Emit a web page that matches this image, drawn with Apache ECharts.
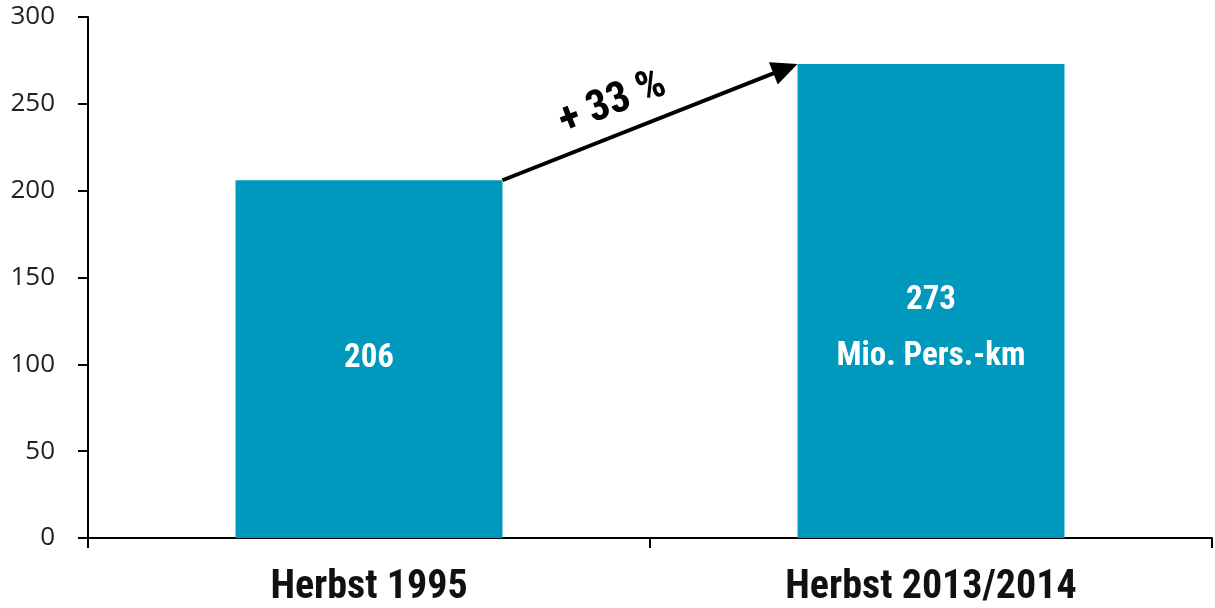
<!DOCTYPE html>
<html>
<head>
<meta charset="utf-8">
<script src="https://cdn.jsdelivr.net/npm/echarts@6/dist/echarts.min.js"></script>
<style>
html,body{margin:0;padding:0;background:#fff;}
#c{width:1215px;height:608px;}
</style>
</head>
<body>
<div id="c"></div>
<script>
const categories = ['Herbst 1995', 'Herbst 2013/2014'];
const values = [206, 273];
const valueLabels = ['206', '273\nMio. Pers.-km'];
const yTicks = [0, 50, 100, 150, 200, 250, 300];
const changeLabel = '+ 33 %';

const narrow = '"Roboto Condensed", "Open Sans Condensed", "Liberation Sans", sans-serif';
const BAR_FRAC = 0.475;

const chart = echarts.init(document.getElementById('c'));
chart.setOption({
  animation: false,
  grid: { left: 88, right: 3, top: 17, bottom: 70 },
  xAxis: {
    type: 'category',
    data: categories,
    axisLine: { lineStyle: { color: '#000', width: 2 } },
    axisTick: { show: true, length: 10, lineStyle: { color: '#000', width: 2 } },
    axisLabel: { color: '#111', fontFamily: narrow, fontWeight: 'bold', fontSize: 40, margin: 30 }
  },
  yAxis: {
    type: 'value',
    min: yTicks[0], max: yTicks[yTicks.length - 1], interval: 50,
    splitLine: { show: false },
    axisLine: { show: true, lineStyle: { color: '#000', width: 2 } },
    axisTick: { show: true, length: 10, lineStyle: { color: '#000', width: 2 } },
    axisLabel: { color: '#222', fontFamily: '"Open Sans", "Noto Sans", sans-serif', fontSize: 26, margin: 33 }
  },
  series: [{
    type: 'bar',
    data: values.map((v, i) => ({
      value: v,
      label: {
        formatter: valueLabels[i],
        offset: [0, i === 1 ? 28 : 0]
      }
    })),
    barWidth: (BAR_FRAC * 100) + '%',
    itemStyle: { color: '#0098BC' },
    label: {
      show: true, position: 'inside', color: '#fff',
      fontFamily: narrow, fontWeight: 'bold', fontSize: 33, lineHeight: 56
    }
  }]
});

function drawArrow() {
  const p0 = chart.convertToPixel({ seriesIndex: 0 }, [0, values[0]]);
  const p1 = chart.convertToPixel({ seriesIndex: 0 }, [1, values[1]]);
  const band = p1[0] - p0[0];
  const half = band * BAR_FRAC / 2;
  const x0 = p0[0] + half, y0 = p0[1];
  const x1 = p1[0] - half, y1 = p1[1];
  const ang = Math.atan2(y1 - y0, x1 - x0);
  const headLen = 26, headW = 12;
  const bx = x1 - headLen * Math.cos(ang), by = y1 - headLen * Math.sin(ang);
  const nx = -Math.sin(ang), ny = Math.cos(ang);
  const mx = (x0 + x1) / 2, my = (y0 + y1) / 2;
  chart.setOption({
    graphic: [
      { type: 'line', shape: { x1: x0, y1: y0, x2: bx + 2 * Math.cos(ang), y2: by + 2 * Math.sin(ang) },
        style: { stroke: '#000', lineWidth: 4 } },
      { type: 'polygon', shape: { points: [[x1, y1], [bx + nx * headW, by + ny * headW], [bx - nx * headW, by - ny * headW]] },
        style: { fill: '#000' } },
      { type: 'text', x: mx - 31 * nx - 28 * Math.cos(ang), y: my - 31 * ny - 28 * Math.sin(ang), rotation: -ang,
        style: { text: changeLabel, fill: '#000', font: 'bold 43px ' + narrow, align: 'center', verticalAlign: 'middle' } }
    ]
  });
}
drawArrow();
</script>
</body>
</html>
